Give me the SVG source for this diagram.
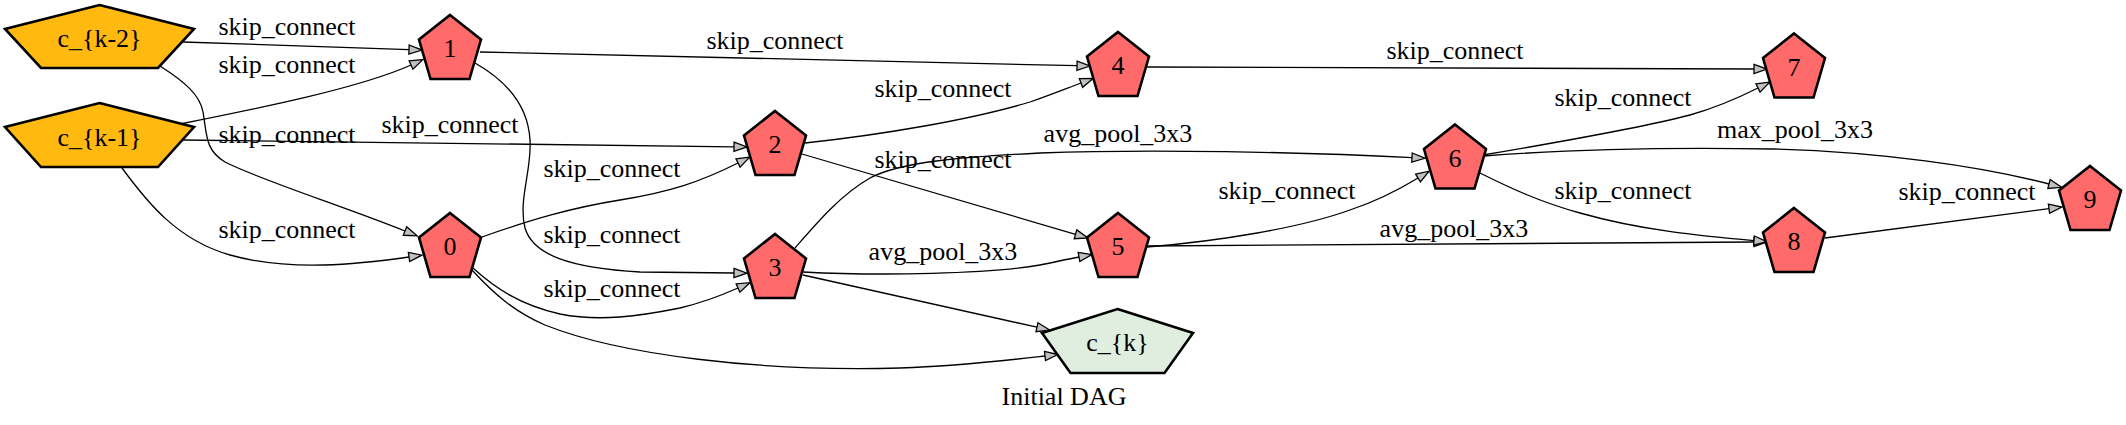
<svg xmlns="http://www.w3.org/2000/svg" width="2126" height="425" viewBox="0 0 2126 425">
<defs>
<style>
.n{stroke:#000;stroke-width:2.6;stroke-linejoin:miter}
.op{fill:#ff6a6a}
.in{fill:#ffb90f}
.out{fill:#e0eee0}
text{font-family:"Liberation Serif","Times New Roman",serif;font-size:26px;fill:#000}
.nl{text-anchor:middle}
.el{text-anchor:middle}
.e{fill:none;stroke:#000;stroke-width:1.3;marker-end:url(#ah)}
</style>
<marker id="ah" markerUnits="userSpaceOnUse" markerWidth="16" markerHeight="12" refX="0" refY="6" orient="auto" overflow="visible">
<path d="M0,1.4 L13,6 L0,10.6 Z" fill="#c0c0c0" stroke="#000" stroke-width="1.3"/>
</marker>
<path id="pent" d="M0,-32 L31,-7.5 L19.5,32 L-19.5,32 L-31,-7.5 Z"/>
</defs>
<rect width="2126" height="425" fill="#fff"/>

<g id="connectors">
<path class="e" d="M183,42 L409,49.6"/>
<path class="e" d="M180,124 C260,108 360,88 411,65"/>
<path class="e" d="M183,140 L734,146.8"/>
<path class="e" d="M160,66 C185,82 200,95 203,112 C207,135 205,150 225,162 C260,180 340,205 405,231"/>
<path class="e" d="M122,168 C147,202 177,240 230,255 C290,272 360,264 409,257"/>
<path class="e" d="M480,52 L1077,65.7"/>
<path class="e" d="M475,63 C505,80 528,105 530,140 C532,170 518,200 525,228 C533,255 570,268 640,272 L734,273"/>
<path class="e" d="M482,237 C530,220 570,208 620,200 C670,192 700,182 738,163"/>
<path class="e" d="M473,268 C495,288 520,305 560,314 C600,322 640,316 680,308 C705,302 720,296 738,288"/>
<path class="e" d="M472,270 C495,295 515,312 545,325 C620,355 760,372 900,368 C960,366 1010,360 1045,356"/>
<path class="e" d="M805,143 C880,135 970,120 1030,102 C1050,95 1065,89 1081,83"/>
<path class="e" d="M802,154 L1075.5,234.3"/>
<path class="e" d="M795,248 C815,225 840,195 870,178 C900,162 960,157 1040,153 C1150,149 1300,152 1412,157.6"/>
<path class="e" d="M803,272 C880,276 990,274 1040,265 C1055,262 1068,259 1079,257"/>
<path class="e" d="M803,275 L1037,327.2"/>
<path class="e" d="M1147,67 L1754,69"/>
<path class="e" d="M1147,247 C1220,241 1300,228 1350,210 C1380,200 1400,189 1418,178"/>
<path class="e" d="M1147,246 L1754,242"/>
<path class="e" d="M1483,155 C1560,142 1640,128 1690,115 C1715,108 1738,98 1758,88"/>
<path class="e" d="M1484,156 C1560,150 1650,147 1773,149 C1880,152 1980,166 2049,184"/>
<path class="e" d="M1480,173 C1510,188 1540,202 1580,213 C1640,230 1700,236 1754,240.6"/>
<path class="e" d="M1825,238 L2049,208.7"/>
<g id="edge-labels">
<text class="el" x="287" y="35">skip_connect</text>
<text class="el" x="287" y="73">skip_connect</text>
<text class="el" x="287" y="143">skip_connect</text>
<text class="el" x="287" y="238">skip_connect</text>
<text class="el" x="450" y="133">skip_connect</text>
<text class="el" x="775" y="49">skip_connect</text>
<text class="el" x="612" y="177">skip_connect</text>
<text class="el" x="612" y="243">skip_connect</text>
<text class="el" x="612" y="297">skip_connect</text>
<text class="el" x="943" y="97">skip_connect</text>
<text class="el" x="943" y="168">skip_connect</text>
<text class="el" x="943" y="260">avg_pool_3x3</text>
<text class="el" x="1118" y="142">avg_pool_3x3</text>
<text class="el" x="1455" y="59">skip_connect</text>
<text class="el" x="1287" y="199">skip_connect</text>
<text class="el" x="1454" y="237">avg_pool_3x3</text>
<text class="el" x="1623" y="106">skip_connect</text>
<text class="el" x="1623" y="199">skip_connect</text>
<text class="el" x="1795" y="138">max_pool_3x3</text>
<text class="el" x="1967" y="200">skip_connect</text>
</g>
</g>

<g id="node-ck2"><path class="n in" d="M99.5,5 L194,29 L158,68 L41,68 L5,29 Z"/><text class="nl" x="99.5" y="47">c_{k-2}</text></g>
<g id="node-ck1"><path class="n in" d="M99.5,103 L194,127 L158,167 L41,167 L5,127 Z"/><text class="nl" x="99.5" y="146">c_{k-1}</text></g>
<g id="node-1"><use href="#pent" class="n op" x="450" y="47"/><text class="nl" x="450" y="57">1</text></g>
<g id="node-0"><use href="#pent" class="n op" x="450" y="245"/><text class="nl" x="450" y="255">0</text></g>
<g id="node-2"><use href="#pent" class="n op" x="775" y="143"/><text class="nl" x="775" y="153">2</text></g>
<g id="node-3"><use href="#pent" class="n op" x="775" y="266"/><text class="nl" x="775" y="276">3</text></g>
<g id="node-4"><use href="#pent" class="n op" x="1118" y="64"/><text class="nl" x="1118" y="74">4</text></g>
<g id="node-5"><use href="#pent" class="n op" x="1118" y="245"/><text class="nl" x="1118" y="255">5</text></g>
<g id="node-ck"><path class="n out" d="M1117.5,309 L1193,333 L1164.5,373 L1070.5,373 L1042,333 Z"/><text class="nl" x="1117.5" y="351">c_{k}</text></g>
<g id="node-6"><use href="#pent" class="n op" x="1455" y="156.5"/><text class="nl" x="1455" y="166.5">6</text></g>
<g id="node-7"><use href="#pent" class="n op" x="1794" y="65.5"/><text class="nl" x="1794" y="75.5">7</text></g>
<g id="node-8"><use href="#pent" class="n op" x="1794" y="240"/><text class="nl" x="1794" y="250">8</text></g>
<g id="node-9"><use href="#pent" class="n op" x="2090" y="198"/><text class="nl" x="2090" y="208">9</text></g>
<text class="nl" x="1064" y="405">Initial DAG</text>
</svg>
